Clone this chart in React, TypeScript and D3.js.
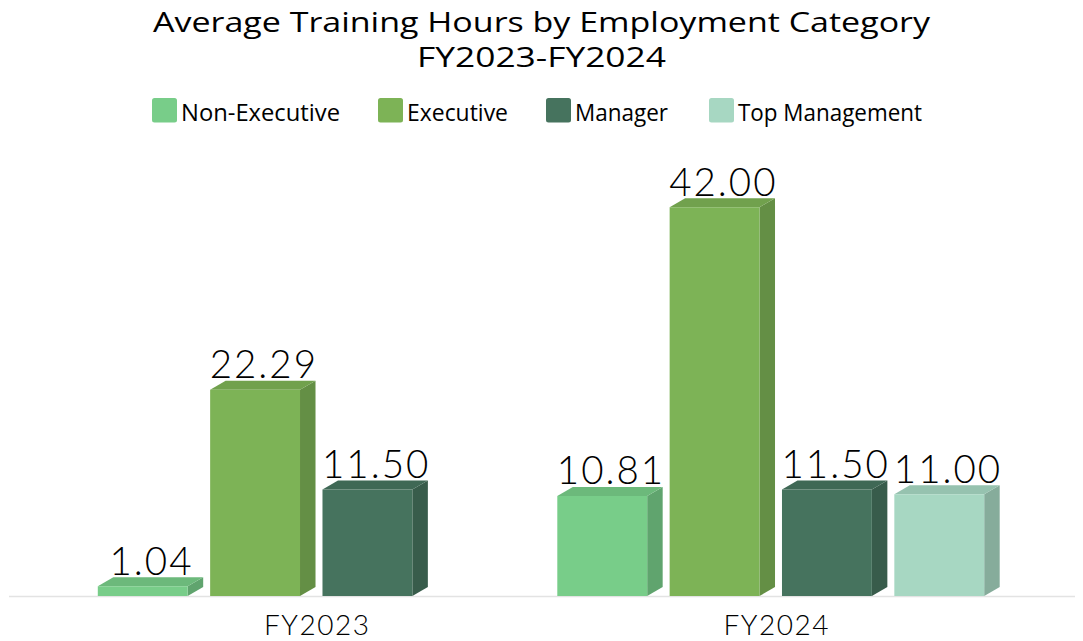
import React from "react";
import * as d3 from "d3";

const years = ["FY2023", "FY2024"];
const seriesNames = ["Non-Executive", "Executive", "Manager", "Top Management"];
const nonExecutive = [1.04, 10.81];
const executive = [22.29, 42.0];
const manager = [11.5, 11.5];
const topManagement: (number | null)[] = [null, 11.0];
const seriesValues = [nonExecutive, executive, manager, topManagement];
const seriesColors = ["#78CD89", "#7DB356", "#46735E", "#A7D7C2"];
const titleLines = ["Average Training Hours by Employment Category", "FY2023-FY2024"];

const W = 1083;
const H = 641;
const baseY = 596;
const depthX = 15.5;
const depthY = 9;

export default function App() {
  const x0 = d3.scaleBand<string>().domain(years).range([89, 1008]).padding(0);
  const x1 = d3.scaleBand<string>().domain(seriesNames).range([8.8, 435.7]).paddingInner(0.2).paddingOuter(0);
  const y = d3.scaleLinear().domain([0, 42]).range([baseY, 207.2]);
  const bw = x1.bandwidth();

  const shade = (c: string, f: number) => {
    const col = d3.rgb(c);
    return d3.rgb(col.r * f, col.g * f, col.b * f).formatHex();
  };

  const legendX = [152, 378, 546, 709];
  const legendW = [159, 101, 93, 184];
  const valueFont = "Lato, 'Open Sans', sans-serif";

  const bars: React.ReactNode[] = [];
  years.forEach((yr, yi) => {
    seriesNames.forEach((s, si) => {
      const v = seriesValues[si][yi];
      if (v === null || v === undefined) return;
      const x = (x0(yr) as number) + (x1(s) as number);
      const top = y(v);
      const c = seriesColors[si];
      const front = `M${x},${top}L${x + bw},${top}L${x + bw},${baseY}L${x},${baseY}Z`;
      const side = `M${x + bw},${top}L${x + bw + depthX},${top - depthY}L${x + bw + depthX},${baseY - depthY}L${x + bw},${baseY}Z`;
      const topFace = `M${x},${top}L${x + depthX},${top - depthY}L${x + bw + depthX},${top - depthY}L${x + bw},${top}Z`;
      bars.push(
        <g key={`${yr}-${s}`}>
          <path d={side} fill={shade(c, 0.8)} />
          <path d={topFace} fill={shade(c, 0.9)} />
          <path d={front} fill={c} />
          <text
            x={x + (bw + depthX) / 2 + 1}
            y={top - depthY - 2.5}
            textAnchor="middle"
            fontFamily={valueFont}
            fontSize={38.5}
            fontWeight={300}
            letterSpacing={2}
            fill="#000"
          >
            {v.toFixed(2)}
          </text>
        </g>
      );
    });
  });

  return (
    <svg
      width={W}
      height={H}
      style={{ position: "absolute", left: 0, top: 0, background: "#fff" }}
    >
      <rect x={0} y={0} width={W} height={H} fill="#fff" />
      <text x={541.5} y={32} textAnchor="middle" fontFamily="'Open Sans', sans-serif" fontSize={28} fill="#000" textLength={777} lengthAdjust="spacingAndGlyphs">
        {titleLines[0]}
      </text>
      <text x={541.5} y={66.5} textAnchor="middle" fontFamily="'Open Sans', sans-serif" fontSize={28} fill="#000" textLength={249} lengthAdjust="spacingAndGlyphs">
        {titleLines[1]}
      </text>
      {seriesNames.map((s, i) => (
        <g key={s}>
          <rect x={legendX[i]} y={98} width={25} height={24.5} rx={2.5} fill={seriesColors[i]} />
          <text x={legendX[i] + 29} y={121} fontFamily="'Open Sans', sans-serif" fontSize={23} fill="#000" textLength={legendW[i]} lengthAdjust="spacingAndGlyphs">
            {s}
          </text>
        </g>
      ))}
      <line x1={9} x2={1075} y1={baseY + 0.5} y2={baseY + 0.5} stroke="#e3e3e3" strokeWidth={1.5} />
      {bars}
      {years.map((yr) => (
        <text
          key={yr}
          x={(x0(yr) as number) + x0.bandwidth() / 2 - 1.5}
          y={635}
          textAnchor="middle"
          fontFamily={valueFont}
          fontSize={28}
          fontWeight={300}
          letterSpacing={1.5}
          fill="#000"
        >
          {yr}
        </text>
      ))}
    </svg>
  );
}
